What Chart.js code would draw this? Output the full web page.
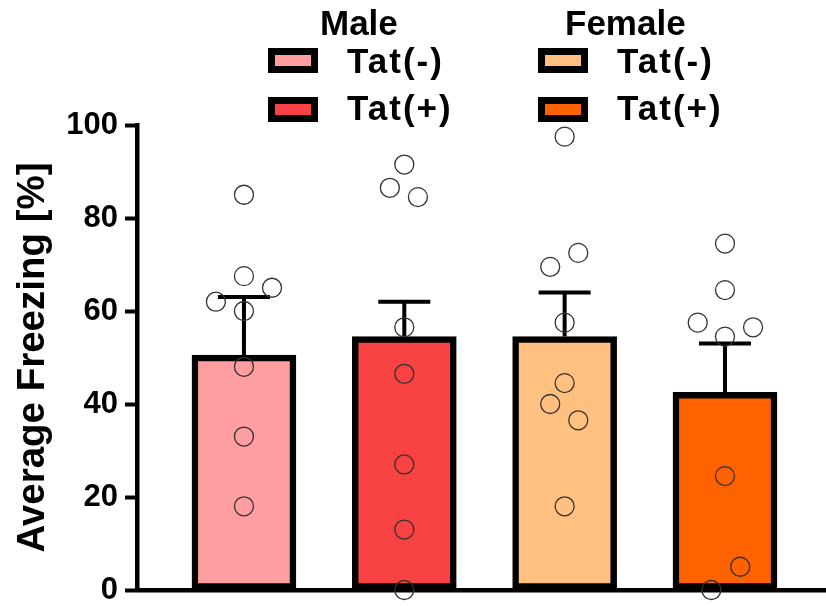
<!DOCTYPE html>
<html>
<head>
<meta charset="utf-8">
<script src="https://cdn.jsdelivr.net/npm/chart.js@4"></script>
<style>
  body { margin: 0; background: #fff; }
  #wrap { position: relative; width: 826px; height: 606px; font-family: "Liberation Sans", Arial, sans-serif; font-weight: bold; }
  canvas { position: absolute; left: 0; top: 0; }
  .lg { position: absolute; font-size: 35px; line-height: 35px; color: #000; white-space: nowrap; }
  .lg.cond { letter-spacing: 2px; }
  .box { position: absolute; width: 36px; height: 11px; border: 7px solid #000; }
</style>
</head>
<body>
<div id="wrap">
  <canvas id="chart" width="826" height="606"></canvas>
  <div id="legend"></div>
</div>
<script>
// groups in drawing order
const groups = ["Male Tat(-)", "Male Tat(+)", "Female Tat(-)", "Female Tat(+)"];
const sexes = ["Male", "Female"];
const conditions = ["Tat(-)", "Tat(+)"];
const barColors = ["#FF9EA0", "#F94244", "#FFC080", "#FF6200"];

// means and SEM
const means = [50.5, 54.5, 54.5, 42.5];
const sems = [12.5, 7.5, 9.5, 10.5];

// individual animals, with a small sideways jitter (in group units)
const values1 = [85, 67.5, 65, 62, 60, 48, 33, 18];
const jitter1 = [0, 0, 0.175, -0.175, 0, 0, 0, 0];
const values2 = [91.5, 86.5, 84.5, 56.5, 46.5, 27, 13, 0];
const jitter2 = [0, -0.09, 0.085, 0, 0, 0, 0, 0];
const values3 = [97.5, 72.5, 69.5, 57.5, 44.5, 40, 36.5, 18];
const jitter3 = [0, 0.085, -0.09, 0, 0, -0.09, 0.085, 0];
const values4 = [74.5, 64.5, 57.5, 56.5, 54.5, 24.5, 5, 0];
const jitter4 = [0, 0, -0.17, 0.175, 0, 0, 0.095, -0.085];

const yTicks = [0, 20, 40, 60, 80, 100];

const allValues = [values1, values2, values3, values4];
const allJitter = [jitter1, jitter2, jitter3, jitter4];

const points = [];
allValues.forEach(function (vals, g) {
  vals.forEach(function (v, i) {
    points.push({ x: g + allJitter[g][i], y: v });
  });
});

// Fehlerbalken (SEM nach oben)
const errorBars = {
  id: "errorBars",
  afterDatasetDraw(chart, args) {
    if (args.index !== 0) return;
    const ctx = chart.ctx;
    const yScale = chart.scales.y;
    ctx.save();
    ctx.strokeStyle = "#000";
    ctx.lineWidth = 4;
    args.meta.data.forEach(function (bar, i) {
      const top = yScale.getPixelForValue(means[i] + sems[i]);
      const half = bar.width * 0.25;
      ctx.beginPath();
      ctx.moveTo(bar.x, bar.y);
      ctx.lineTo(bar.x, top);
      ctx.moveTo(bar.x - half, top);
      ctx.lineTo(bar.x + half, top);
      ctx.stroke();
    });
    ctx.restore();
  },
};

new Chart(document.getElementById("chart"), {
  data: {
    datasets: [
      {
        type: "bar",
        data: means.map(function (m, i) { return { x: i, y: m }; }),
        backgroundColor: barColors,
        borderColor: "#000",
        borderWidth: 6.5,
        borderSkipped: false,
        barThickness: 104,
        order: 2,
      },
      {
        type: "scatter",
        data: points,
        pointStyle: "circle",
        pointRadius: 9.5,
        pointBorderWidth: 1.3,
        pointBorderColor: "#333",
        pointBackgroundColor: "rgba(0,0,0,0)",
        clip: false,
        order: 1,
      },
    ],
  },
  options: {
    responsive: false,
    animation: false,
    devicePixelRatio: 1,
    layout: { autoPadding: false, padding: { top: 125, left: 0, right: 0, bottom: 0 } },
    plugins: { legend: { display: false }, tooltip: { enabled: false } },
    scales: {
      x: {
        type: "linear",
        offset: false,
        min: -0.667,
        max: 3.63,
        ticks: { display: false },
        grid: { display: false },
        border: { display: true, color: "#000", width: 4.5 },
        afterFit: function (scale) { scale.height = 16; },
      },
      y: {
        min: 0,
        max: 100,
        afterBuildTicks: function (scale) {
          scale.ticks = yTicks.map(function (v) { return { value: v }; });
        },
        ticks: {
          color: "#000",
          padding: 7,
          font: { family: "Liberation Sans", size: 31, weight: "bold", lineHeight: 1 },
        },
        grid: {
          drawOnChartArea: false,
          drawTicks: true,
          tickLength: 12,
          tickWidth: 4,
          tickColor: "#000",
        },
        border: { display: true, color: "#000", width: 4.5 },
        title: {
          display: true,
          text: "Average Freezing [%]",
          color: "#000",
          padding: { top: 10, bottom: 0 },
          font: { family: "Liberation Sans", size: 38.5, weight: "bold" },
        },
        afterFit: function (scale) {
          scale.width = 137;
          scale.paddingTop = 0;
          scale.paddingBottom = 0;
        },
      },
    },
  },
  plugins: [errorBars],
});

// Legende als HTML, zwei Spalten mit Überschrift
const legendPos = [
  { head: 320, box: 268, text: 347 },
  { head: 565, box: 538, text: 617 },
];
const rowTop = [43, 90];
const boxTop = [48, 97];
let html = "";
sexes.forEach(function (sex, s) {
  html += '<div class="lg" style="left:' + legendPos[s].head + 'px;top:5px">' + sex + "</div>";
  conditions.forEach(function (cond, c) {
    const g = s * 2 + c;
    html += '<div class="box" style="left:' + legendPos[s].box + "px;top:" + boxTop[c] + "px;background:" + barColors[g] + '"></div>';
    html += '<div class="lg cond" style="left:' + legendPos[s].text + "px;top:" + rowTop[c] + 'px">' + cond + "</div>";
  });
});
document.getElementById("legend").innerHTML = html;
</script>
</body>
</html>
